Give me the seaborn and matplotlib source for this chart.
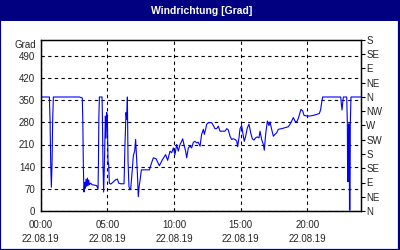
import matplotlib
matplotlib.use("Agg")
import matplotlib.pyplot as plt
import seaborn as sns
import pandas as pd
from matplotlib.patches import Rectangle
from matplotlib.ticker import MultipleLocator

# ---- data ----
hours = [0.0, 0.65, 0.7, 0.75, 0.8, 0.85, 0.9, 0.95, 2.9, 3.12, 3.16, 3.18, 3.2, 3.25,
         3.3, 3.35, 3.4, 3.45, 3.5, 3.55, 3.6, 3.65, 3.75, 3.85, 4.0, 4.2, 4.3, 4.33,
         4.36, 4.4, 4.6, 4.63, 4.67, 4.72, 4.78, 4.85, 4.9, 4.95, 5.0, 5.05, 5.1, 5.15,
         5.25, 5.4, 5.6, 5.75, 5.85, 6.0, 6.25, 6.32, 6.4, 6.45, 6.5, 6.55, 6.62, 6.7,
         6.75, 6.85, 6.95, 7.05, 7.12, 7.18, 7.25, 7.32, 7.38, 7.45, 7.55, 8.15, 8.3,
         8.45, 8.65, 8.9, 9.1, 9.37, 9.52,
         9.70, 9.82, 9.95, 10.07, 10.2, 10.32, 10.45, 10.57, 10.65, 10.77, 10.87, 10.95,
         11.07, 11.2, 11.32, 11.45, 11.57, 11.7, 11.82, 11.95, 12.07, 12.2, 12.27, 12.37,
         12.45, 12.57, 12.82, 12.95, 13.07, 13.2, 13.32, 13.45, 13.7, 13.82, 13.95, 14.07,
         14.2, 14.32, 14.45, 14.57, 14.7, 14.77, 14.87, 14.95, 15.07, 15.2, 15.27, 15.37,
         15.5, 15.62, 15.75, 15.87, 16.0, 16.12, 16.25, 16.37, 16.45, 16.57, 16.7, 16.77,
         16.87, 16.95, 17.0, 17.12, 17.2, 17.32, 17.45, 17.57, 17.7, 17.82, 18.07, 18.32,
         18.57, 18.7, 18.82, 18.95, 19.07, 19.2, 19.32, 19.45, 19.52, 19.65, 19.75, 19.95,
         20.2, 20.45, 20.7, 20.9, 21.0, 21.07, 21.15, 22.5, 22.55, 22.6, 22.65, 22.7,
         22.95, 23.0, 23.02, 23.07, 23.09, 23.14, 23.16, 23.2, 23.22, 23.27, 24.0]
degrees = [360, 360, 290, 150, 75, 150, 290, 360, 360, 357, 280, 200, 135, 60,
           90, 72, 100, 78, 104, 80, 98, 83, 88, 83, 82, 80, 70, 150,
           290, 360, 360, 290, 150, 60, 150, 300, 230, 311, 290, 157, 146, 88,
           85, 90, 98, 101, 88, 86, 86, 210, 311, 290, 360, 157, 77, 67,
           70, 120, 175, 190, 226, 178, 120, 45, 77, 96, 130, 130, 150,
           168, 165, 143, 160, 178, 160,
           189, 184, 199, 178, 210, 189, 210, 220, 228, 205, 189, 168,
           199, 205, 199, 217, 220, 215, 217, 205, 242, 258, 242, 258,
           274, 279, 279, 270, 260, 260, 268, 252, 252, 252, 260, 256,
           236, 226, 228, 226, 221, 203, 231, 260, 270, 236, 220, 236,
           263, 274, 247, 228, 224, 231, 234, 231, 252, 226, 210, 192,
           242, 268, 284, 270, 281, 258, 236, 242, 247, 258, 260, 263,
           266, 274, 284, 295, 284, 281, 292, 311, 321, 316, 302, 300,
           300, 302, 305, 308, 321, 342, 360, 360, 337, 319, 342, 360,
           360, 275, 93, 93, 275, 275, 3, 3, 275, 360, 360]

left_ticks = [0, 70, 140, 210, 280, 350, 420, 490]
right_ticks = [0, 45, 90, 135, 180, 225, 270, 315, 360, 405, 450, 495, 540]
right_labels = ["N", "NE", "E", "SE", "S", "SW", "W", "NW", "N", "NE", "E", "SE", "S"]
x_ticks = [0, 5, 10, 15, 20]
x_labels = ["00:00\n22.08.19", "05:00\n22.08.19", "10:00\n22.08.19",
            "15:00\n22.08.19", "20:00\n22.08.19"]
title = "Windrichtung [Grad]"
unit = "Grad"

df = pd.DataFrame({"hour": hours, "deg": degrees})

sns.set_style("white")
plt.rcParams["font.family"] = ["Liberation Sans", "DejaVu Sans"]
FS = 7

fig = plt.figure(figsize=(4, 2.5), dpi=100)
fig.patch.set_facecolor("white")
navy = "#000080"
# title bar and frame
fig.patches.append(Rectangle((0, 1 - 20.5 / 250), 1, 20.5 / 250, transform=fig.transFigure,
                             facecolor=navy, edgecolor="none", zorder=0))
fig.patches.append(Rectangle((0.001, 0.002), 0.996, 0.996, transform=fig.transFigure,
                             facecolor="none", edgecolor=navy, linewidth=1.6, zorder=0))
fig.text(0.505, 1 - 10.5 / 250, title, color="white", fontsize=7.5, fontweight="bold",
         ha="center", va="center")

ax = fig.add_axes([40.7 / 400, 1 - 211 / 250, 320 / 400, 171 / 250])
sns.lineplot(data=df, x="hour", y="deg", ax=ax, color="#0000ff", linewidth=0.8,
             estimator=None, sort=False)

ax.set_xlim(0, 24)
ax.set_ylim(0, 540)
ax.set_xticks(x_ticks)
ax.set_xticklabels(x_labels, fontsize=FS, linespacing=1.55)
ax.xaxis.set_minor_locator(MultipleLocator(1))
ax.set_yticks(left_ticks)
ax.set_yticklabels([str(v) for v in left_ticks], fontsize=FS)
ax.set_xlabel("")
ax.set_ylabel("")
ax.tick_params(axis="y", which="both", length=0, pad=4)
ax.tick_params(axis="x", which="both", direction="in", length=3, width=0.8,
               color="black", pad=6.5)
ax.grid(True, which="major", color="black", linestyle=(0, (3, 3)), linewidth=0.8)
for s in ax.spines.values():
    s.set_color("black")
    s.set_linewidth(0.9)

ax2 = ax.twinx()
ax2.set_ylim(0, 540)
ax2.set_yticks(right_ticks)
ax2.set_yticklabels(right_labels, fontsize=FS)
ax2.tick_params(axis="y", direction="out", length=3, width=0.8, color="black", pad=1)
for s in ax2.spines.values():
    s.set_color("black")
    s.set_linewidth(0.9)

fig.text(36.5 / 400, 1 - 45 / 250, unit, fontsize=FS, ha="right", va="center")

fig.savefig("out.png", dpi=100)
